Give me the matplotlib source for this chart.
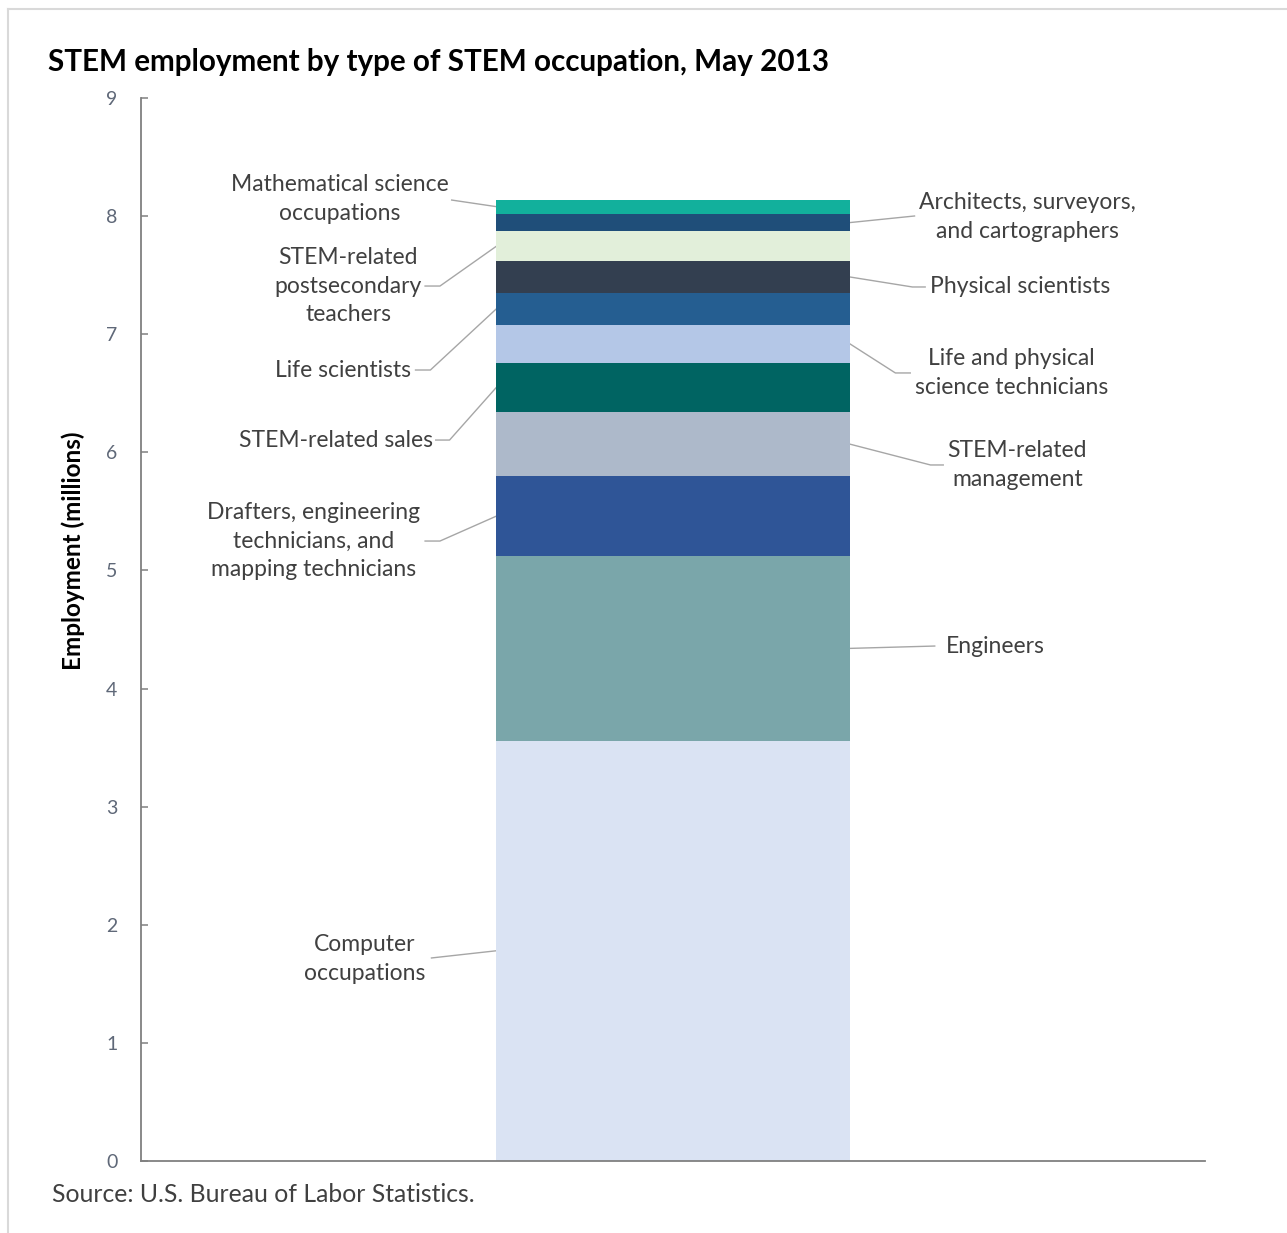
import matplotlib
matplotlib.use("Agg")
import matplotlib.pyplot as plt
from matplotlib.lines import Line2D
import numpy as np

plt.rcParams['font.family'] = ['Lato', 'DejaVu Sans']

# data (millions), bottom to top
occupations = [
    "Computer\noccupations",
    "Engineers",
    "Drafters, engineering\ntechnicians, and\nmapping technicians",
    "STEM-related\nmanagement",
    "STEM-related sales",
    "Life and physical\nscience technicians",
    "Life scientists",
    "Physical scientists",
    "STEM-related\npostsecondary\nteachers",
    "Architects, surveyors,\nand cartographers",
    "Mathematical science\noccupations",
]
employment = [3.56, 1.56, 0.68, 0.54, 0.42, 0.32, 0.27, 0.27, 0.25, 0.15, 0.12]
colors = ["#DAE3F3", "#7AA6AA", "#2F5597", "#ADB9CA", "#006462", "#B4C7E7",
          "#255E91", "#333F50", "#E2EFDA", "#1F4E79", "#12B09C"]
y_ticks = list(range(0, 10))

# label layout: side, text anchor (x, y), leader path points after bar edge
label_layout = [
    ("L", (0.267, 1.71), [(0.273, 1.719)]),
    ("R", (0.756, 4.36), [(0.746, 4.36)]),
    ("L", (0.262, 5.25), [(0.281, 5.249), (0.267, 5.249)]),
    ("R", (0.758, 5.893), [(0.742, 5.893), (0.754, 5.893)]),
    ("L", (0.274, 6.104), [(0.290, 6.104), (0.277, 6.104)]),
    ("R", (0.727, 6.672), [(0.709, 6.672), (0.723, 6.672)]),
    ("L", (0.254, 6.697), [(0.272, 6.697), (0.258, 6.697)]),
    ("R", (0.742, 7.40), [(0.725, 7.40), (0.737, 7.40)]),
    ("L", (0.264, 7.408), [(0.281, 7.408), (0.267, 7.408)]),
    ("R", (0.731, 7.993), [(0.727, 8.001)]),
    ("L", (0.289, 8.145), [(0.292, 8.136)]),
]

W, H = 1287, 1233
fig = plt.figure(figsize=(W / 100, H / 100), dpi=100)
ax = fig.add_axes([141 / W, 1 - 1161 / H, 1064 / W, 1063 / H])

bar_x = 0.5
bar_w = 0.332
bottoms = np.concatenate([[0], np.cumsum(employment)[:-1]])
ax.bar(bar_x, employment, bottom=bottoms, width=bar_w, color=colors,
       edgecolor="none", zorder=2)

ax.set_xlim(0, 1)
ax.set_ylim(0, 9)
ax.set_yticks(y_ticks)
ax.set_xticks([])
for s in ["top", "right"]:
    ax.spines[s].set_visible(False)
for s in ["left", "bottom"]:
    ax.spines[s].set_color("#808080")
    ax.spines[s].set_linewidth(1.3)
ax.tick_params(axis="y", direction="in", length=5, width=1.1, color="#808080",
               labelcolor="#5f6878", labelsize=14, pad=17)
ax.set_ylabel("Employment (millions)", fontsize=17.5, fontweight="bold",
              color="black")
ax.yaxis.set_label_coords(-0.053, 0.574)

text_color = "#404040"
line_color = "#A6A6A6"
for name, val, bot, (side, (tx, ty), pts) in zip(occupations, employment, bottoms, label_layout):
    mid = bot + val / 2
    edge = bar_x - bar_w / 2 if side == "L" else bar_x + bar_w / 2
    xs = [edge] + [p[0] for p in pts]
    ys = [mid] + [p[1] for p in pts]
    ax.plot(xs, ys, color=line_color, lw=1.0, zorder=1, clip_on=False)
    ax.text(tx, ty, name, ha="right" if side == "L" else "left", va="center",
            multialignment="center", fontsize=16.5, color=text_color,
            linespacing=1.42)

fig.text(48 / W, 1 - 62 / H, "STEM employment by type of STEM occupation, May 2013",
         fontsize=21.3, fontweight="bold", color="black", va="center", ha="left")
fig.text(52 / W, 1 - 1195 / H, "Source: U.S. Bureau of Labor Statistics.",
         fontsize=17.8, color=text_color, va="center", ha="left")

# outer frame (only top and left visible)
fig.add_artist(Line2D([8 / W, 8 / W], [0, 1 - 9 / H], transform=fig.transFigure,
                      color="#D9D9D9", lw=1.5))
fig.add_artist(Line2D([8 / W, 1], [1 - 9 / H, 1 - 9 / H], transform=fig.transFigure,
                      color="#D9D9D9", lw=1.5))

fig.savefig("out.png", dpi=100, facecolor="white")
